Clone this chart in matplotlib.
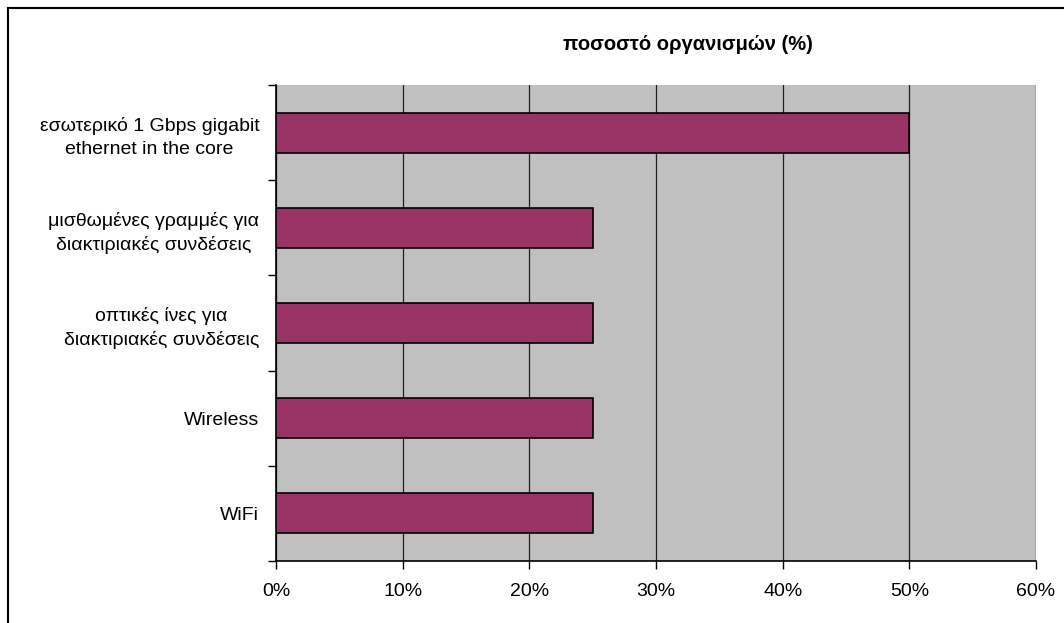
import matplotlib.pyplot as plt
from matplotlib.patches import Rectangle
from matplotlib.ticker import MultipleLocator, PercentFormatter

plt.rcParams['font.family'] = ['Liberation Sans', 'DejaVu Sans']

categories = [
    "εσωτερικό 1 Gbps gigabit\nethernet in the core",
    "μισθωμένες γραμμές για\nδιακτιριακές συνδέσεις",
    "οπτικές ίνες για\nδιακτιριακές συνδέσεις",
    "Wireless",
    "WiFi",
]
values = [50, 25, 25, 25, 25]
x_ticks = [0, 10, 20, 30, 40, 50, 60]

fig = plt.figure(figsize=(10.64, 6.23), dpi=100)
# outer chart border: only top and left edges fall inside the picture
fig.patches.append(Rectangle((8 / 1064, -0.05), 1.2, 1 - 8 / 623 + 0.05,
                             transform=fig.transFigure, fill=False,
                             edgecolor="black", linewidth=1.5))

ax = fig.add_axes([276 / 1064, 1 - 561 / 623, 760 / 1064, 476 / 623])
ax.set_facecolor("#C0C0C0")

positions = list(range(len(categories)))
ax.barh(positions, values, height=0.42, color="#993366",
        edgecolor="black", linewidth=1.2, zorder=3)

ax.set_xlim(0, 60)
ax.set_ylim(len(categories) - 0.5, -0.5)
ax.set_xticks(x_ticks)
ax.xaxis.set_major_formatter(PercentFormatter(decimals=0))
ax.grid(axis="x", color="#202020", linewidth=0.9, zorder=1)

ax.set_yticks(positions)
ax.set_yticklabels(categories, multialignment="center", linespacing=1.45)
ax.yaxis.set_minor_locator(MultipleLocator(1, offset=0.5))
ax.tick_params(axis="y", which="major", length=0, pad=12)
ax.tick_params(axis="y", which="minor", length=6, width=1, color="black")
ax.tick_params(axis="x", length=6, width=1, pad=10)
ax.tick_params(labelsize=14)

for side in ("top", "right"):
    ax.spines[side].set_visible(False)
for side in ("left", "bottom"):
    ax.spines[side].set_linewidth(1.2)

fig.text(688 / 1064, 1 - 44 / 623, "ποσοστό οργανισμών (%)",
         ha="center", va="center", fontsize=14.5, fontweight="bold")

fig.savefig("out.png", dpi=100)
